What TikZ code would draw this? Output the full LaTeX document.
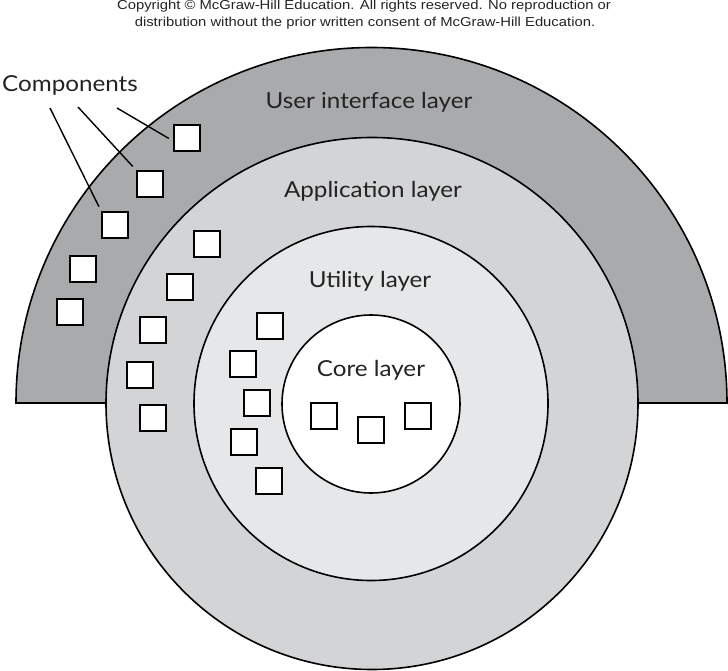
\documentclass[tikz,border=0pt]{standalone}
\usepackage{fontspec}
\setmainfont[FakeStretch=1.1]{Lato}
\newfontfamily\arialfont[FakeStretch=1.14]{Liberation Sans}
\definecolor{uicol}{RGB}{169,170,172}
\definecolor{appcol}{RGB}{211,212,214}
\definecolor{utilcol}{RGB}{230,231,232}
\definecolor{txtcol}{RGB}{35,35,35}
\tikzset{
  ring/.style={draw=black, line width=1.6pt},
  comp/.style={draw=black, fill=white, line width=1.7pt, minimum size=26pt, inner sep=0pt},
  layerlabel/.style={text=txtcol, font=\fontsize{22}{26}\selectfont, inner sep=0pt, anchor=base},
  copytext/.style={font=\arialfont\fontsize{13}{16.5}\selectfont, inner sep=0pt, text=txtcol, anchor=base}
}
\tikzset{leader/.style={draw=black, line width=1.4pt, shorten >=5pt}}
\begin{document}
\begin{tikzpicture}[x=1pt,y=-1pt]
\useasboundingbox (0,0) rectangle (728,671);
% layers
\path[ring, fill=uicol] (16,403) arc[start angle=180, end angle=0, radius=355.5pt] -- cycle;
\path[ring, fill=appcol] (372,403.5) circle[radius=266pt];
\path[ring, fill=utilcol] (371,403.5) circle[radius=177pt];
\path[ring, fill=white] (371,404) circle[radius=89pt];
% labels
\node[layerlabel] (ui) at (369,109) {User interface layer};
\node[layerlabel] (app) at (373,197) {Application layer};
\node[layerlabel] (util) at (370,287) {Utility layer};
\node[layerlabel] (core) at (371,376) {Core layer};
\node[layerlabel] (comps) at (70,92) {Components};
% copyright
\node[copytext] (copy1) at (364,10) {Copyright \textcopyright{} McGraw-Hill Education. All rights reserved. No reproduction or};
\node[copytext] (copy2) at (365,26.5) {distribution without the prior written consent of McGraw-Hill Education.};
% UI components
\node[comp] (u1) at (187,138) {};
\node[comp] (u2) at (150,184) {};
\node[comp] (u3) at (115,225) {};
\node[comp] (u4) at (83,269) {};
\node[comp] (u5) at (70,312) {};
% application components
\node[comp] (a1) at (207,244) {};
\node[comp] (a2) at (180,287) {};
\node[comp] (a3) at (153,330) {};
\node[comp] (a4) at (140,375) {};
\node[comp] (a5) at (153,418) {};
% utility components
\node[comp] (t1) at (270,326) {};
\node[comp] (t2) at (243,364) {};
\node[comp] (t3) at (257,403) {};
\node[comp] (t4) at (244,442) {};
\node[comp] (t5) at (269,481) {};
% core components
\node[comp] (c1) at (324,416) {};
\node[comp] (c2) at (371,430) {};
\node[comp] (c3) at (418,416) {};
% leaders
\coordinate (l1) at (50,108);
\coordinate (l2) at (78,107);
\coordinate (l3) at (117,108);
\draw[leader] (l1) -- (u3.north west);
\draw[leader] (l2) -- (u2.north west);
\draw[leader] (l3) -- ([yshift=-3pt]u1.west);
\end{tikzpicture}
\end{document}
